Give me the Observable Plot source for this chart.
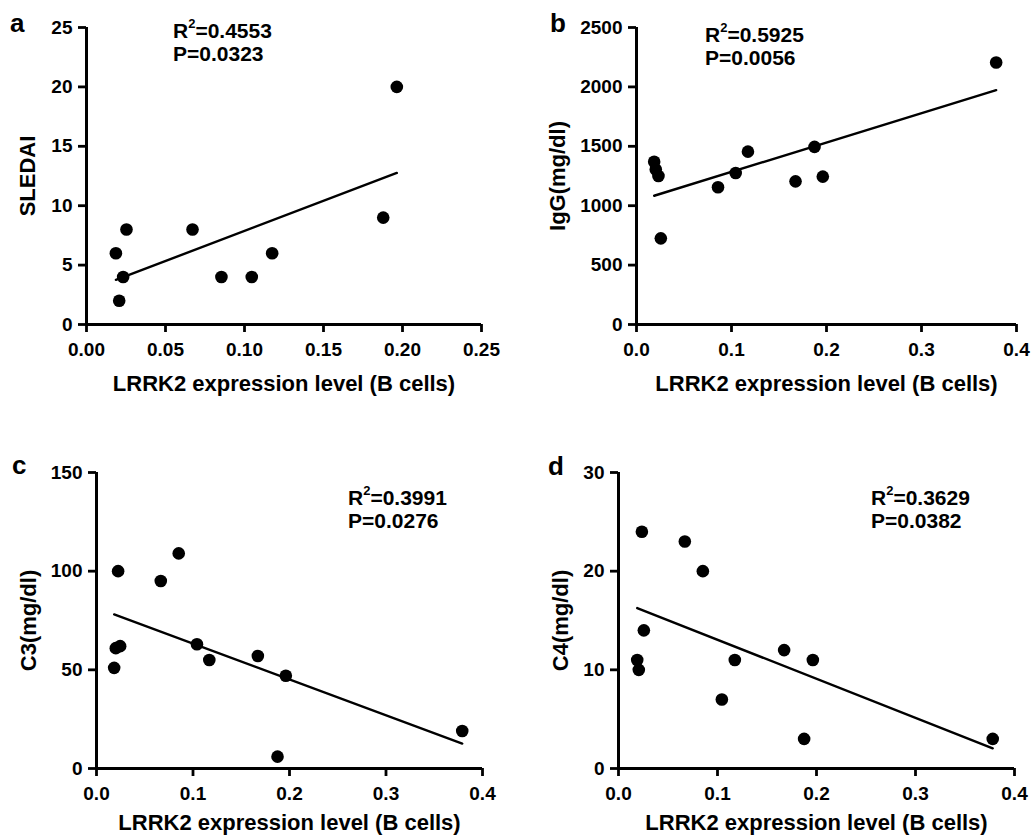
<!DOCTYPE html>
<html><head><meta charset="utf-8">
<script src="https://cdn.jsdelivr.net/npm/d3@7"></script>
<script src="https://cdn.jsdelivr.net/npm/@observablehq/plot@0.6"></script>
<style>
body{margin:0;background:#fff;}
#root{position:relative;width:1031px;height:838px;font-family:"Liberation Sans",Arial,sans-serif;font-weight:bold;color:#000;overflow:hidden;}
.panel{position:absolute;}
.letter{position:absolute;font-size:26px;font-weight:bold;line-height:26px;}
.ann{position:absolute;font-size:21px;font-weight:bold;line-height:22.5px;white-space:nowrap;}
.ann sup{font-size:13px;line-height:0;vertical-align:baseline;position:relative;top:-0.75em;}
</style></head><body><div id="root"></div>
<script>
// Shared text
const xLabel = "LRRK2 expression level (B cells)";

// Panel a: SLEDAI
const aX = [0.0186, 0.0207, 0.0232, 0.0253, 0.0671, 0.0854, 0.1046, 0.1175, 0.1878, 0.1964];
const aY = [6, 2, 4, 8, 8, 4, 4, 6, 9, 20];
// Panel b: IgG (mg/dl)
const bX = [0.0186, 0.0203, 0.0231, 0.0256, 0.0858, 0.1044, 0.1173, 0.1674, 0.1874, 0.1961, 0.3786];
const bY = [1370, 1305, 1250, 725, 1155, 1275, 1455, 1205, 1495, 1245, 2205];
// Panel c: C3 (mg/dl)
const cX = [0.0183, 0.0200, 0.0224, 0.0245, 0.0666, 0.0852, 0.1041, 0.1169, 0.1672, 0.1876, 0.1962, 0.3790];
const cY = [51, 61, 100, 62, 95, 109, 63, 55, 57, 6, 47, 19];
// Panel d: C4 (mg/dl)
const dX = [0.0189, 0.0205, 0.0236, 0.0256, 0.0670, 0.0852, 0.1044, 0.1175, 0.1673, 0.1875, 0.1963, 0.3780];
const dY = [11, 10, 24, 14, 23, 20, 7, 11, 12, 3, 11, 3];

const yLabels = ["SLEDAI", "IgG(mg/dl)", "C3(mg/dl)", "C4(mg/dl)"];
const letters = ["a", "b", "c", "d"];
const r2Text = ["0.4553", "0.5925", "0.3991", "0.3629"];
const pText = ["0.0323", "0.0056", "0.0276", "0.0382"];

const root = document.getElementById("root");
const FONT = "Liberation Sans, Arial, sans-serif";

function panel(cfg) {
  const data = cfg.x.map((v, i) => ({x: v, y: cfg.y[i]}));
  const chart = Plot.plot({
    width: cfg.width, height: cfg.height,
    marginLeft: cfg.ml, marginRight: cfg.mr, marginTop: cfg.mt, marginBottom: cfg.mb,
    style: {fontFamily: FONT, fontWeight: "bold", fontSize: "19px", color: "#000", background: "transparent", overflow: "visible"},
    x: {domain: cfg.xDomain},
    y: {domain: cfg.yDomain},
    marks: [
      Plot.axisX({ticks: cfg.xTicks, tickFormat: cfg.xFormat, tickSize: 8, tickPadding: 10, strokeWidth: 2.8, label: null, fontSize: 19, fontWeight: "bold", fill: "#000"}),
      Plot.axisY({ticks: cfg.yTicks, tickFormat: d3.format("d"), tickSize: 8, tickPadding: 6, strokeWidth: 2.8, label: null, fontSize: 19, fontWeight: "bold", fill: "#000"}),
      Plot.ruleY([cfg.yDomain[0]], {stroke: "#000", strokeWidth: 3}),
      Plot.ruleX([cfg.xDomain[0]], {stroke: "#000", strokeWidth: 3}),
      Plot.linearRegressionY(data, {x: "x", y: "y", ci: 0, stroke: "#000", strokeWidth: 2.4}),
      Plot.dot(data, {x: "x", y: "y", r: 6.3, fill: "#000", stroke: "none"}),
      Plot.text([xLabel], {frameAnchor: "bottom", lineAnchor: "bottom", dy: cfg.xlDy, fontSize: 22, fontWeight: "bold", fill: "#000"}),
      Plot.text([cfg.yLabel], {frameAnchor: "left", rotate: -90, lineAnchor: "middle", textAnchor: "middle", dx: -cfg.ylDx, fontSize: 22, fontWeight: "bold", fill: "#000"})
    ]
  });
  const div = document.createElement("div");
  div.className = "panel";
  div.style.left = cfg.left + "px";
  div.style.top = cfg.top + "px";
  div.appendChild(chart);
  root.appendChild(div);

  const L = document.createElement("div");
  L.className = "letter";
  L.style.left = cfg.letterX + "px";
  L.style.top = cfg.letterY + "px";
  L.textContent = cfg.letter;
  root.appendChild(L);

  const A = document.createElement("div");
  A.className = "ann";
  A.style.left = cfg.annX + "px";
  A.style.top = cfg.annY + "px";
  A.innerHTML = "R<sup>2</sup>=" + cfg.r2 + "<br>P=" + cfg.p;
  root.appendChild(A);
}

const f2 = d3.format(".2f"), f1 = d3.format(".1f");

panel({x: aX, y: aY, xDomain: [0, 0.25], yDomain: [0, 25], xTicks: d3.range(0, 0.26, 0.05), yTicks: d3.range(0, 26, 5), xFormat: f2,
  yLabel: yLabels[0], letter: letters[0], r2: r2Text[0], p: pText[0],
  left: 0, top: 0, width: 501, height: 400, ml: 86, mr: 20, mt: 27, mb: 76, xlDy: 66, ylDx: 59,
  letterX: 10, letterY: 10, annX: 173, annY: 20});

panel({x: bX, y: bY, xDomain: [0, 0.4], yDomain: [0, 2500], xTicks: d3.range(0, 0.41, 0.1), yTicks: d3.range(0, 2501, 500), xFormat: f1,
  yLabel: yLabels[1], letter: letters[1], r2: r2Text[1], p: pText[1],
  left: 520, top: 0, width: 511, height: 400, ml: 116, mr: 15, mt: 27, mb: 76, xlDy: 66, ylDx: 79,
  letterX: 550, letterY: 10, annX: 705, annY: 24});

panel({x: cX, y: cY, xDomain: [0, 0.4], yDomain: [0, 150], xTicks: d3.range(0, 0.41, 0.1), yTicks: d3.range(0, 151, 50), xFormat: f1,
  yLabel: yLabels[2], letter: letters[2], r2: r2Text[2], p: pText[2],
  left: 0, top: 420, width: 502, height: 418, ml: 96, mr: 20, mt: 52, mb: 70, xlDy: 61, ylDx: 68,
  letterX: 12, letterY: 452, annX: 348, annY: 487});

panel({x: dX, y: dY, xDomain: [0, 0.4], yDomain: [0, 30], xTicks: d3.range(0, 0.41, 0.1), yTicks: d3.range(0, 31, 10), xFormat: f1,
  yLabel: yLabels[3], letter: letters[3], r2: r2Text[3], p: pText[3],
  left: 520, top: 420, width: 511, height: 418, ml: 98, mr: 17, mt: 52, mb: 70, xlDy: 61, ylDx: 58,
  letterX: 548, letterY: 453, annX: 871, annY: 487});
</script>
</body></html>
